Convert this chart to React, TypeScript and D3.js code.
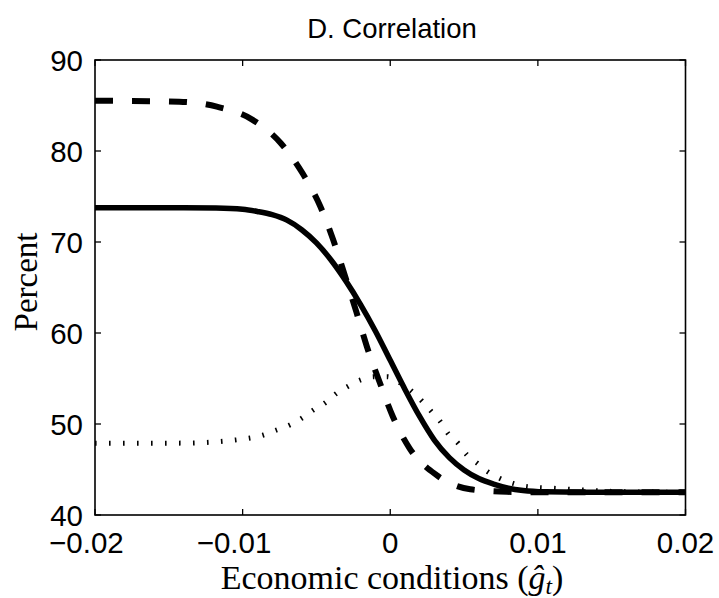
import React from "react"
import * as d3 from "d3"

// x = economic conditions (g hat), y = percent
const solidX = [-0.02, -0.014, -0.0118, -0.01, -0.009, -0.008, -0.007, -0.006, -0.005, -0.004, -0.003, -0.002, -0.001, 0, 0.001, 0.002, 0.003, 0.004, 0.005, 0.006, 0.007, 0.008, 0.009, 0.0105, 0.013, 0.02]
const solidY = [73.77, 73.77, 73.74, 73.6, 73.35, 73.0, 72.4, 71.35, 69.9, 68.0, 65.7, 63.1, 60.2, 57.0, 53.8, 50.8, 48.2, 46.3, 44.95, 44.0, 43.4, 42.95, 42.7, 42.55, 42.5, 42.5]

const dashedX = [-0.02, -0.0143, -0.01175, -0.00938, -0.00741, -0.00594, -0.00475, -0.00386, -0.00305, -0.0023, -0.00158, -0.00073, 0.00018, 0.00131, 0.00312, 0.00542, 0.00791, 0.01, 0.02]
const dashedY = [85.53, 85.42, 84.87, 83.48, 80.85, 77.55, 73.96, 70.22, 66.19, 62.34, 58.49, 54.65, 50.8, 47.33, 44.4, 42.82, 42.55, 42.5, 42.5]

const dottedX = [-0.02, -0.014, -0.0105, -0.0086, -0.0077, -0.0068, -0.006, -0.0052, -0.0044, -0.0037, -0.0029, -0.002, -0.0011, -0.0002, 0.0007, 0.0015, 0.0028, 0.0034, 0.0039, 0.0046, 0.0052, 0.0059, 0.0066, 0.0074, 0.0083, 0.0093, 0.0111, 0.013, 0.016, 0.02]
const dottedY = [47.88, 47.9, 48.24, 48.79, 49.34, 49.89, 50.63, 51.54, 52.34, 53.3, 54.1, 54.84, 55.2, 55.2, 54.5, 53.55, 51.35, 50.25, 48.98, 47.88, 46.59, 45.68, 44.76, 44.03, 43.48, 43.11, 42.93, 42.75, 42.55, 42.5]

const xTicks = [-0.02, -0.01, 0, 0.01, 0.02]
const xTickLabels = ["\u22120.02", "\u22120.01", "0", "0.01", "0.02"]
const yTicks = [40, 50, 60, 70, 80, 90]

const W = 719
const H = 598
const left = 95
const right = 685.5
const top = 60
const bottom = 515

const sans = "'Liberation Sans', Arial, Helvetica, sans-serif"
const serif = "'Liberation Serif', 'Times New Roman', serif"

export default function App() {
  const x = d3.scaleLinear().domain([-0.02, 0.02]).range([left, right])
  const y = d3.scaleLinear().domain([40, 90]).range([bottom, top])

  const line = d3.line<[number, number]>()
    .x(d => x(d[0]))
    .y(d => y(d[1]))
    .curve(d3.curveMonotoneX)

  const zip = (xs: number[], ys: number[]) => xs.map((v, i) => [v, ys[i]] as [number, number])

  const tickLen = 6

  return (
    <div style={{ position: "absolute", left: 0, top: 0 }}>
      <svg width={W} height={H} style={{ display: "block", background: "#fff" }}>
        <text x={392} y={38} textAnchor="middle" fontFamily={sans} fontSize={27.5} fill="#000">
          D. Correlation
        </text>

        {/* curves */}
        <path d={line(zip(dottedX, dottedY)) || ""} fill="none" stroke="#000" strokeWidth={5} strokeDasharray="1.6 12.4" />
        <path d={line(zip(dashedX, dashedY)) || ""} fill="none" stroke="#000" strokeWidth={6} strokeDasharray="18 19" />
        <path d={line(zip(solidX, solidY)) || ""} fill="none" stroke="#000" strokeWidth={5.5} />

        {/* box */}
        <rect x={left} y={top} width={right - left} height={bottom - top} fill="none" stroke="#000" strokeWidth={1.6} />

        {xTicks.map((t, i) => (
          <g key={"x" + i}>
            <line x1={x(t)} x2={x(t)} y1={bottom} y2={bottom - tickLen} stroke="#000" strokeWidth={1.3} />
            <line x1={x(t)} x2={x(t)} y1={top} y2={top + tickLen} stroke="#000" strokeWidth={1.3} />
            <text x={x(t)} y={553} dx={t < 0 ? "-0.292em" : 0} textAnchor="middle" fontFamily={sans} fontSize={29.5} fill="#000">
              {xTickLabels[i]}
            </text>
          </g>
        ))}

        {yTicks.map(t => (
          <g key={"y" + t}>
            <line x1={left} x2={left + tickLen} y1={y(t)} y2={y(t)} stroke="#000" strokeWidth={1.3} />
            <line x1={right} x2={right - tickLen} y1={y(t)} y2={y(t)} stroke="#000" strokeWidth={1.3} />
            <text x={83} y={y(t) + 11} textAnchor="end" fontFamily={sans} fontSize={29.5} fill="#000">
              {t}
            </text>
          </g>
        ))}

        <text x={392} y={589} textAnchor="middle" fontFamily={serif} fontSize={34} fill="#000">
          Economic conditions (<tspan fontStyle="italic">{"\u011D"}</tspan><tspan fontStyle="italic" fontSize={23.5} dy={5}>t</tspan><tspan dy={-5}>)</tspan>
        </text>

        <text transform="translate(36.5,282) rotate(-90)" textAnchor="middle" fontFamily={serif} fontSize={33} fill="#000">
          Percent
        </text>
      </svg>
    </div>
  )
}
